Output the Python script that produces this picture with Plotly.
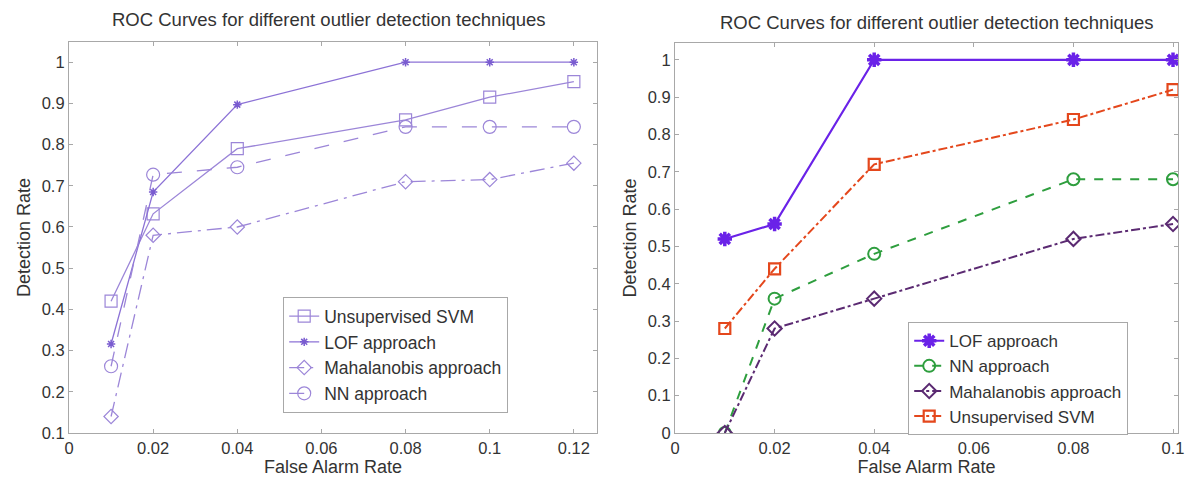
import plotly.graph_objects as go

# ---- data ----
x_left = [0.01, 0.02, 0.04, 0.08, 0.10, 0.12]
left_svm = [0.42, 0.632, 0.79, 0.86, 0.915, 0.953]
left_lof = [0.316, 0.685, 0.897, 1.0, 1.0, 1.0]
left_maha = [0.14, 0.58, 0.60, 0.71, 0.715, 0.755]
left_nn = [0.262, 0.727, 0.745, 0.843, 0.843, 0.843]

x_right = [0.01, 0.02, 0.04, 0.08, 0.10]
right_lof = [0.52, 0.56, 1.0, 1.0, 1.0]
right_nn = [0.0, 0.36, 0.48, 0.68, 0.68]
right_maha = [0.0, 0.28, 0.36, 0.52, 0.56]
right_svm = [0.28, 0.44, 0.72, 0.84, 0.92]

left_ticks_x = [0, 0.02, 0.04, 0.06, 0.08, 0.1, 0.12]
left_ticks_y = [0.1, 0.2, 0.3, 0.4, 0.5, 0.6, 0.7, 0.8, 0.9, 1]
right_ticks_x = [0, 0.02, 0.04, 0.06, 0.08, 0.1]
right_ticks_y = [0, 0.1, 0.2, 0.3, 0.4, 0.5, 0.6, 0.7, 0.8, 0.9, 1]

title_text = "ROC Curves for different outlier detection techniques"
FONT = "Liberation Sans, Arial, sans-serif"
TXT = "#333333"
LC = "#a8a8a8"

fig = go.Figure()

lp = "#9c86d8"
# left panel
fig.add_trace(go.Scatter(x=x_left, y=left_svm, name="Unsupervised SVM", mode="lines+markers",
                         line=dict(color=lp, width=1.3, dash="solid"),
                         marker=dict(symbol="square-open", size=12, color=lp, line=dict(width=1.2)),
                         xaxis="x", yaxis="y", legend="legend"))
fig.add_trace(go.Scatter(x=x_left, y=left_lof, name="LOF approach", mode="lines+markers",
                         line=dict(color="#8c72d6", width=1.3, dash="solid"),
                         marker=dict(symbol="asterisk-open", size=7, color="#7a5cd0", line=dict(width=1.5)),
                         xaxis="x", yaxis="y", legend="legend"))
fig.add_trace(go.Scatter(x=x_left, y=left_maha, name="Mahalanobis approach", mode="lines+markers",
                         line=dict(color=lp, width=1.3, dash="longdashdot"),
                         marker=dict(symbol="diamond-open", size=11, color=lp, line=dict(width=1.2)),
                         xaxis="x", yaxis="y", legend="legend"))
fig.add_trace(go.Scatter(x=x_left, y=left_nn, name="NN approach", mode="lines+markers",
                         line=dict(color=lp, width=1.3, dash="longdash"),
                         marker=dict(symbol="circle-open", size=13, color=lp, line=dict(width=1.2)),
                         xaxis="x", yaxis="y", legend="legend"))

# right panel
fig.add_trace(go.Scatter(x=x_right, y=right_lof, name="LOF approach", mode="lines+markers",
                         line=dict(color="#6a22e8", width=2.2, dash="solid"),
                         marker=dict(symbol="asterisk-open", size=12, color="#6a22e8", line=dict(width=3.5)),
                         xaxis="x2", yaxis="y2", legend="legend2"))
fig.add_trace(go.Scatter(x=x_right, y=right_nn, name="NN approach", mode="lines+markers",
                         line=dict(color="#2e9e3e", width=2, dash="dash"),
                         marker=dict(symbol="circle-open", size=12, color="#2e9e3e", line=dict(width=2)),
                         xaxis="x2", yaxis="y2", legend="legend2"))
fig.add_trace(go.Scatter(x=x_right, y=right_maha, name="Mahalanobis approach", mode="lines+markers",
                         line=dict(color="#5b2a72", width=2, dash="dashdot"),
                         marker=dict(symbol="diamond-open", size=11, color="#5b2a72", line=dict(width=2)),
                         xaxis="x2", yaxis="y2", legend="legend2"))
fig.add_trace(go.Scatter(x=x_right, y=right_svm, name="Unsupervised SVM", mode="lines+markers",
                         line=dict(color="#e4471c", width=2, dash="dashdot"),
                         marker=dict(symbol="square-open", size=11, color="#e4471c", line=dict(width=2.2)),
                         xaxis="x2", yaxis="y2", legend="legend2"))

axis_common = dict(showline=True, linecolor=LC, linewidth=1.2, mirror="ticks", ticks="inside",
                   ticklen=4, tickcolor=LC, showgrid=False, zeroline=False, automargin=False,
                   tickfont=dict(family=FONT, size=16.5, color=TXT))

W, H = 1189, 477
AT = dict(size=18, family=FONT, color=TXT)
fig.update_layout(
    width=W, height=H, plot_bgcolor="white", paper_bgcolor="white",
    margin=dict(l=0, r=0, t=0, b=0),
    font=dict(family=FONT, color=TXT),
    xaxis=dict(domain=[69 / W, 597 / W], range=[0, 0.1255], tickvals=left_ticks_x,
               ticktext=["0", "0.02", "0.04", "0.06", "0.08", "0.1", "0.12"],
               title=dict(text="False Alarm Rate", font=AT, standoff=2),
               anchor="y", **axis_common),
    yaxis=dict(domain=[1 - 433 / H, 1 - 42 / H], range=[0.1, 1.049], tickvals=left_ticks_y,
               ticktext=["0.1", "0.2", "0.3", "0.4", "0.5", "0.6", "0.7", "0.8", "0.9", "1"],
               title=dict(text="Detection Rate", font=AT, standoff=6),
               anchor="x", **axis_common),
    xaxis2=dict(domain=[675 / W, 1178 / W], range=[0, 0.101], tickvals=right_ticks_x,
                ticktext=["0", "0.02", "0.04", "0.06", "0.08", "0.1"],
                title=dict(text="False Alarm Rate", font=AT, standoff=2),
                anchor="y2", **axis_common),
    yaxis2=dict(domain=[1 - 433 / H, 1 - 43 / H], range=[0, 1.045], tickvals=right_ticks_y,
                ticktext=["0", "0.1", "0.2", "0.3", "0.4", "0.5", "0.6", "0.7", "0.8", "0.9", "1"],
                title=dict(text="Detection Rate", font=AT, standoff=6),
                anchor="x2", **axis_common),
    legend=dict(x=283 / W, y=1 - 297 / H, xanchor="left", yanchor="top",
                bgcolor="white", bordercolor=LC, borderwidth=1.2,
                font=dict(size=17.5, family=FONT, color=TXT), tracegroupgap=0, itemwidth=30),
    legend2=dict(x=908 / W, y=1 - 322 / H, xanchor="left", yanchor="top",
                 bgcolor="white", bordercolor=LC, borderwidth=1.2,
                 font=dict(size=17, family=FONT, color=TXT), tracegroupgap=0, itemwidth=30),
    annotations=[
        dict(text=title_text, x=329 / W, y=1 - 20 / H, xref="paper", yref="paper",
             showarrow=False, font=dict(size=18.5, family=FONT, color=TXT), xanchor="center", yanchor="middle"),
        dict(text=title_text, x=937 / W, y=1 - 22 / H, xref="paper", yref="paper",
             showarrow=False, font=dict(size=18.5, family=FONT, color=TXT), xanchor="center", yanchor="middle"),
    ],
)

fig.write_html("out.html", config={"displayModeBar": False},
               post_script="document.body.style.margin='0';document.body.style.overflow='hidden';")
